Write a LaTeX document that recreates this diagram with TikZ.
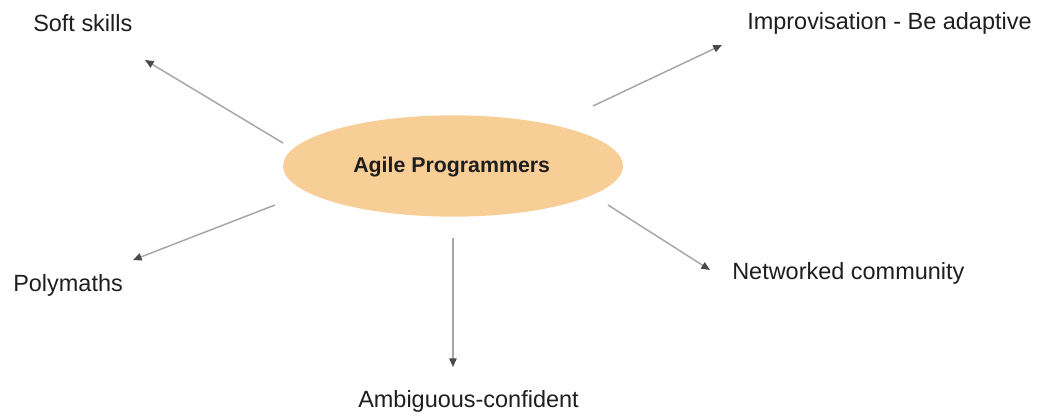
\documentclass[tikz,border=0pt]{standalone}
\usepackage{fontspec}
\setmainfont{Liberation Sans}
\usetikzlibrary{arrows.meta,shapes.geometric}
\definecolor{hubfill}{HTML}{F8CE97}
\definecolor{linkgray}{HTML}{A6A6A6}
\definecolor{tipgray}{HTML}{4A4A4A}
\definecolor{labeltext}{HTML}{1E1E1E}
\begin{document}
\begin{tikzpicture}[x=0.75pt,y=-0.75pt,
  hub/.style={ellipse, fill=hubfill, draw=none, minimum width=255pt, minimum height=76pt, inner sep=0pt},
  hubtext/.style={anchor=base west, inner sep=0pt, text=labeltext, font=\fontsize{16}{19}\selectfont\bfseries},
  label/.style={anchor=base west, inner sep=0pt, text=labeltext, font=\fontsize{17.6}{21}\selectfont},
  link/.style={draw=linkgray, line width=1.1pt, -{Triangle[length=6.5pt,width=5.5pt,fill=tipgray,color=tipgray]}}
]
\useasboundingbox (0,0) rectangle (1042,417);
% central ellipse
\node[hub] (ap) at (453,166) {};
\node[hubtext] (aptext) at (353,173) {Agile Programmers};

% surrounding traits
\node[label] (soft) at (33,32) {Soft skills};
\node[label] (impro) at (747,30) {Improvisation - Be adaptive};
\node[label] (poly) at (13,291) {Polymaths};
\node[label] (net) at (732,279) {Networked community};
\node[label] (amb) at (358,407) {Ambiguous-confident};

% connector ends
\coordinate (softS) at (283,143);  \coordinate (softE) at (145,60);
\coordinate (impS) at (593,106);   \coordinate (impE) at (722,45);
\coordinate (netS) at (608,205);   \coordinate (netE) at (710,270);
\coordinate (ambS) at (453,238);   \coordinate (ambE) at (453,367);
\coordinate (polyS) at (275,205);  \coordinate (polyE) at (133,260);

\draw[link] (softS) -- (softE);
\draw[link] (impS) -- (impE);
\draw[link] (netS) -- (netE);
\draw[link] (ambS) -- (ambE);
\draw[link] (polyS) -- (polyE);
\end{tikzpicture}
\end{document}
